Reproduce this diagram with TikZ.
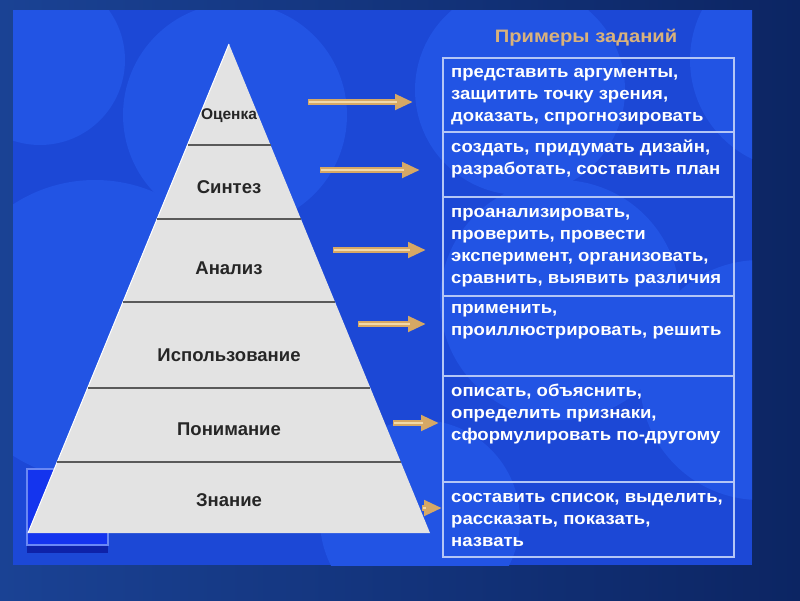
\documentclass[tikz,border=0pt]{standalone}
\usepackage{fontspec}
\setmainfont{Liberation Sans}
\newfontfamily\widefont[FakeStretch=1.09]{Liberation Sans}
\newfontfamily\titlefont[FakeStretch=1.12]{Liberation Sans}
\usetikzlibrary{arrows.meta,calc}
\definecolor{outerL}{HTML}{1A4294}
\definecolor{outerR}{HTML}{0C2563}
\definecolor{panel}{HTML}{1C48D6}
\definecolor{panelhi}{HTML}{2254E4}
\definecolor{pyrfill}{HTML}{E3E3E3}
\definecolor{pyrline}{HTML}{5A5A5A}
\definecolor{tan}{HTML}{D6A865}
\definecolor{tanhi}{HTML}{F2D9A8}
\definecolor{tblline}{HTML}{B4C6F6}
\definecolor{titlec}{HTML}{D9B27C}
\definecolor{lbl}{HTML}{262626}
\definecolor{boxdark}{HTML}{0E22A8}
\definecolor{boxline}{HTML}{6A88F4}
\definecolor{boxfill}{HTML}{1434EE}
\tikzset{
  lvl/.style={font=\fontsize{18.5}{20}\selectfont\bfseries, text=lbl, inner sep=0pt},
  cell/.style={font=\widefont\fontsize{17}{22}\selectfont\bfseries, text=white, align=left, anchor=west, inner sep=0pt},
  tanarrow/.style={draw=tan, line width=6pt, -{Triangle[length=18pt,width=15pt,fill=tan]}},
  tanshine/.style={draw=tanhi, line width=1.6pt},
  divider/.style={pyrline, line width=1.5pt},
}
\begin{document}
\begin{tikzpicture}[x=1pt,y=-1pt]
\useasboundingbox (0,0) rectangle (800,600);
% outer background
\shade[left color=outerL, right color=outerR] (0,0) rectangle (800,600);
% panel
\fill[panel] (13,10) rectangle (752,565);
\begin{scope}
\clip (13,10) rectangle (752,565);
\fill[panelhi] (235,115) circle (112);
\fill[panelhi] (40,60) circle (85);
\fill[panelhi] (95,330) circle (150);
\fill[panelhi] (520,90) circle (105);
\fill[panelhi] (800,60) circle (110);
\fill[panelhi] (560,300) circle (120);
\fill[panelhi] (760,380) circle (120);
\fill[panelhi] (420,520) circle (100);
\end{scope}
% small box bottom-left
\fill[boxdark] (27,545) rectangle (108,553);
\draw[draw=boxline, fill=boxfill, line width=1.2pt] (27,469) rectangle (108,545);

% pyramid
\coordinate (apex) at (229,44);
\coordinate (bl) at (28,533);
\coordinate (br) at (430,533);
\fill[pyrfill] (apex) -- (bl) -- (br) -- cycle;
\draw[white, line width=1pt] (apex) -- (bl);
\coordinate (al) at (187.5,145); \coordinate (ar) at (270.5,145);
\coordinate (bl2) at (157.1,219); \coordinate (br2) at (300.9,219);
\coordinate (cl) at (123.0,302); \coordinate (cr) at (335.0,302);
\coordinate (dl) at (87.6,388); \coordinate (dr) at (370.4,388);
\coordinate (el) at (57.2,462); \coordinate (er) at (400.8,462);
\draw[divider] (al) -- (ar);
\draw[divider] (bl2) -- (br2);
\draw[divider] (cl) -- (cr);
\draw[divider] (dl) -- (dr);
\draw[divider] (el) -- (er);
\node[lvl, font=\fontsize{15.5}{17}\selectfont\bfseries] (l1) at (229,116) {Оценка};
\node[lvl] (l2) at (229,187) {Синтез};
\node[lvl] (l3) at (229,268) {Анализ};
\node[lvl] (l4) at (229,355) {Использование};
\node[lvl] (l5) at (229,429) {Понимание};
\node[lvl] (l6) at (229,500) {Знание};

% title
\node[font=\titlefont\fontsize{18}{20}\selectfont\bfseries, text=titlec] (title) at (586,38) {Примеры заданий};

% table
\coordinate (t0l) at (443,58);
\coordinate (t6r) at (734,557);
\draw[tblline, line width=2pt] (t0l) rectangle (t6r);
\foreach \y in {132,197,296,376,482}{
  \draw[tblline, line width=2pt] (443,\y) -- (734,\y);
}
\node[cell] (r1) at (451,96.5) {представить аргументы,\\защитить точку зрения,\\доказать, спрогнозировать};
\node[cell] (r2) at (451,159) {создать, придумать дизайн,\\разработать, составить план};
\node[cell] (r3) at (451,247.5) {проанализировать,\\проверить, провести\\эксперимент, организовать,\\сравнить, выявить различия};
\node[cell] (r4) at (451,322) {применить,\\проиллюстрировать, решить};
\node[cell] (r5) at (451,414) {описать, объяснить,\\определить признаки,\\сформулировать по-другому};
\node[cell] (r6) at (451,520) {составить список, выделить,\\рассказать, показать,\\назвать};

% arrows
\foreach \i/\xa/\xb/\y in {1/308/413/102, 2/320/420/170, 3/333/426/250, 4/358/426/324, 5/393/439/423, 6/422/442/508}{
  \coordinate (s\i) at (\xa,\y);
  \coordinate (e\i) at (\xb,\y);
  \draw[tanarrow] (s\i) -- (e\i);
  \draw[tanshine] ($(s\i)+(1,0)$) -- ($(e\i)+(-16,0)$);
}
\end{tikzpicture}
\end{document}
